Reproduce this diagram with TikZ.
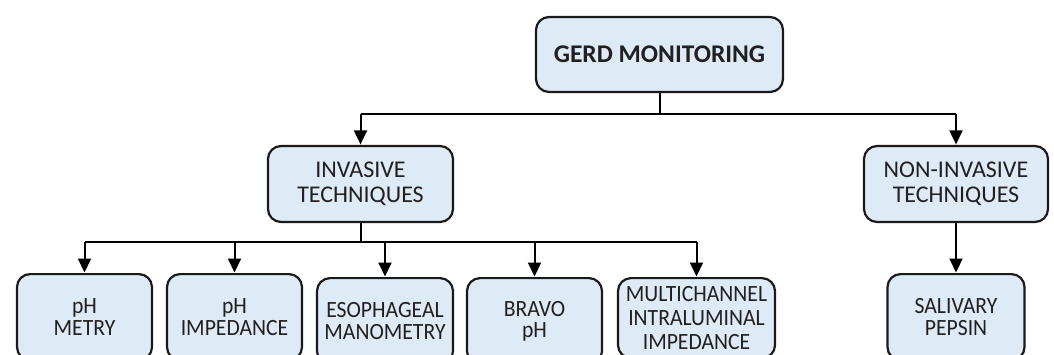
\documentclass[tikz,border=0pt]{standalone}
\usepackage{fontspec}
\setmainfont{Carlito}
\newfontfamily\leaffont[FakeStretch=0.93]{Carlito}
\usetikzlibrary{arrows.meta}
\definecolor{boxfill}{HTML}{DEEAF6}
\definecolor{boxline}{HTML}{1A1A1A}
\definecolor{txt}{HTML}{202020}
\tikzset{
  box/.style={draw=boxline, line width=2.2pt, fill=boxfill, rounded corners=13pt,
    inner sep=0pt, align=center, text=txt},
  topbox/.style={box, minimum width=247pt, minimum height=75pt,
    font=\fontsize{25.5}{28}\selectfont\bfseries},
  midbox/.style={box, minimum width=185pt, minimum height=76pt,
    font=\fontsize{24}{25}\selectfont},
  leafbox/.style={box, minimum height=86pt, anchor=north,
    font=\leaffont\fontsize{23.3}{21.5}\selectfont},
  conn/.style={line width=2pt, draw=black},
  arr/.style={conn, -{Triangle[length=14pt,width=13pt]}, shorten >=0.5pt}
}
\begin{document}
\begin{tikzpicture}[x=1pt,y=-1pt]
\useasboundingbox (0,0) rectangle (1054,354);
\clip (0,0) rectangle (1054,354);
\fill[white] (0,0) rectangle (1054,354);

\node[topbox] (gerd) at (659.5,54.5) {GERD MONITORING};
\node[midbox] (inv) at (360.5,184) {INVASIVE\\TECHNIQUES};
\node[midbox, minimum width=184pt] (noninv) at (956,184) {NON-INVASIVE\\TECHNIQUES};

\node[leafbox, minimum width=135pt] (m1) at (84.5,273) {pH\\METRY};
\node[leafbox, minimum width=135pt] (m2) at (234.5,273) {pH\\IMPEDANCE};
\node[leafbox, minimum width=136pt] (m3) at (385,277) {ESOPHAGEAL\\MANOMETRY};
\node[leafbox, minimum width=135pt] (m4) at (534.5,277) {BRAVO\\pH};
\node[leafbox, minimum width=157pt, minimum height=80pt, font=\leaffont\fontsize{23.3}{24}\selectfont] (m5) at (696.5,277) {MULTICHANNEL\\INTRALUMINAL\\IMPEDANCE};
\node[leafbox, minimum width=137pt] (sal) at (956,273) {SALIVARY\\PEPSIN};

\coordinate (bus1) at (659.5,114);
\coordinate (bus2) at (360.5,242);

\draw[conn] (gerd.south) -- (bus1);
\draw[conn] (inv.north |- bus1) -- (noninv.north |- bus1);
\draw[arr] (inv.north |- bus1) -- (inv.north);
\draw[arr] (noninv.north |- bus1) -- (noninv.north);

\draw[conn] (inv.south) -- (bus2);
\draw[conn] (m1.north |- bus2) -- (m5.north |- bus2);
\foreach \n in {m1,m2,m3,m4,m5}
  \draw[arr] (\n.north |- bus2) -- (\n.north);

\draw[arr] (noninv.south) -- (sal.north);
\end{tikzpicture}
\end{document}
